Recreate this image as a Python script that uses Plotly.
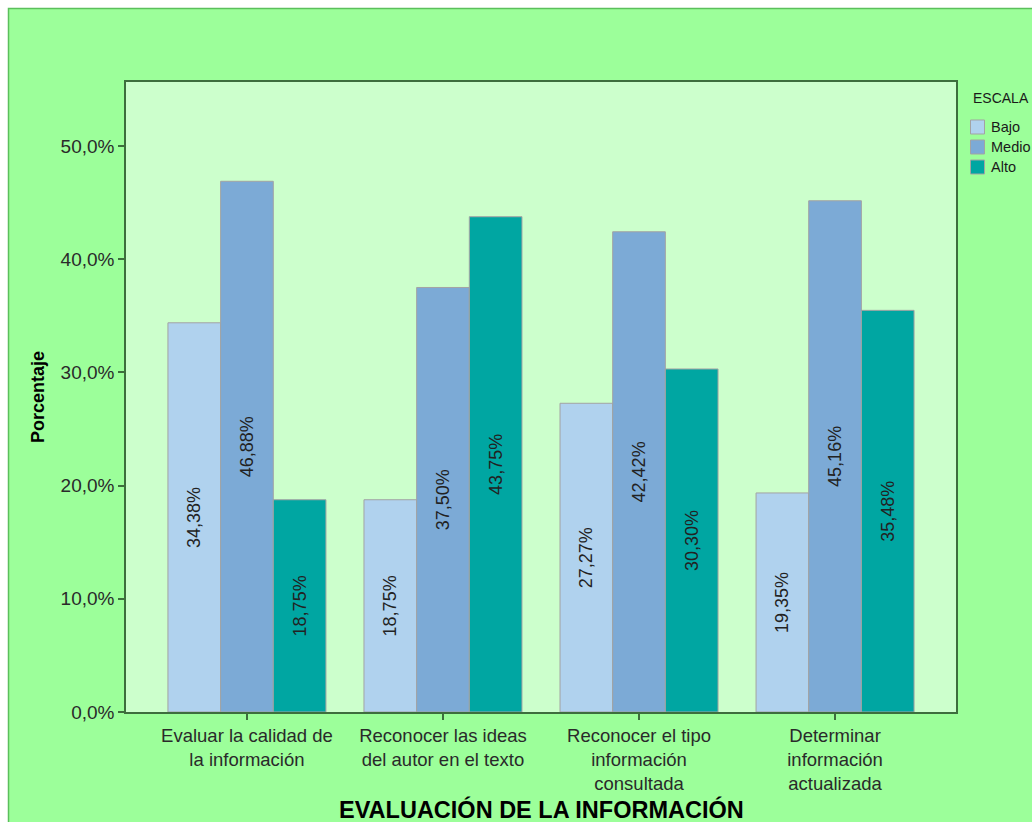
import plotly.graph_objects as go

categories = [
    "Evaluar la calidad de<br>la información",
    "Reconocer las ideas<br>del autor en el texto",
    "Reconocer el tipo<br>información<br>consultada",
    "Determinar<br>información<br>actualizada",
]
series_names = ["Bajo", "Medio", "Alto"]
bajo = [34.38, 18.75, 27.27, 19.35]
medio = [46.88, 37.50, 42.42, 45.16]
alto = [18.75, 43.75, 30.30, 35.48]
series_values = [bajo, medio, alto]
series_colors = ["#B0D2EE", "#7CAAD6", "#00A6A2"]
y_ticks = [0, 10, 20, 30, 40, 50]
y_ticktext = ["0,0%", "10,0%", "20,0%", "30,0%", "40,0%", "50,0%"]
legend_title = "ESCALA"

FONT = "Liberation Sans, Arial, sans-serif"

fig = go.Figure()
for name, vals, col in zip(series_names, series_values, series_colors):
    fig.add_trace(go.Bar(
        name=name, x=categories, y=vals,
        marker=dict(color=col, line=dict(color="#A3A3A3", width=1)),
        texttemplate="%{y:.2f}%",
        textposition="inside",
        insidetextanchor="middle",
        textangle=-90,
        textfont=dict(family=FONT, size=18, color="#222222"),
        hoverinfo="skip",
        showlegend=False,
    ))

W, H = 1032, 822
L, T, R, B = 126, 82, 76, 110
pw, ph = W - L - R, H - T - B

def px_x(p):
    return (p - L) / pw

def px_y(p):
    return (H - B - p) / ph

shapes = [
    dict(type="rect", xref="paper", yref="paper", layer="below",
         x0=px_x(8.5), x1=px_x(1200), y0=px_y(1000), y1=px_y(8.5),
         fillcolor="#9CFF9A", line=dict(color="#5CBF5C", width=1.5)),
    dict(type="rect", xref="paper", yref="paper", layer="below",
         x0=0, x1=1, y0=0, y1=1,
         fillcolor="#CCFFCC", line=dict(width=0)),
]
annotations = [
    dict(text="<b>EVALUACIÓN DE LA INFORMACIÓN</b>", xref="paper", yref="paper",
         x=px_x(541), y=px_y(810), xanchor="center", yanchor="middle",
         showarrow=False, font=dict(family=FONT, size=23.5, color="#000000")),
    dict(text="<b>Porcentaje</b>", xref="paper", yref="paper",
         x=px_x(38), y=px_y(397), xanchor="center", yanchor="middle",
         textangle=-90, showarrow=False,
         font=dict(family=FONT, size=18, color="#000000")),
    dict(text=legend_title, xref="paper", yref="paper",
         x=px_x(971), y=px_y(98), xanchor="left", yanchor="middle",
         showarrow=False, font=dict(family=FONT, size=14, color="#1A1A1A")),
]
# legend drawn by hand so that swatch/text spacing matches the original
for i, (name, col) in enumerate(zip(series_names, series_colors)):
    cy = 127 + 20 * i
    shapes.append(dict(type="rect", xref="paper", yref="paper", layer="above",
                       x0=px_x(970.5), x1=px_x(984.5), y0=px_y(cy + 7), y1=px_y(cy - 7),
                       fillcolor=col, line=dict(color="#A3A3A3", width=1)))
    annotations.append(dict(text=name, xref="paper", yref="paper",
                            x=px_x(989), y=px_y(cy), xanchor="left", yanchor="middle",
                            showarrow=False,
                            font=dict(family=FONT, size=14.5, color="#1A1A1A")))

fig.update_layout(
    width=W, height=H,
    margin=dict(l=L, r=R, t=T, b=B, pad=0, autoexpand=False),
    paper_bgcolor="white",
    plot_bgcolor="#CCFFCC",
    separators=",.",
    barmode="group",
    bargap=0.194,
    bargroupgap=0,
    font=dict(family=FONT, color="#2A2A2A"),
    showlegend=False,
    xaxis=dict(
        range=[-0.617, 3.617],
        showline=True, linecolor="#3D6E3D", linewidth=1.5, mirror=True,
        ticks="outside", ticklen=6, tickcolor="#3D6E3D", tickwidth=1.5,
        tickfont=dict(family=FONT, size=18.5, color="#2A2A2A"),
        showgrid=False, zeroline=False, fixedrange=True,
    ),
    yaxis=dict(
        range=[0, 55.65],
        tickvals=y_ticks, ticktext=y_ticktext,
        showline=True, linecolor="#3D6E3D", linewidth=1.5, mirror=True,
        ticks="outside", ticklen=6, tickcolor="#3D6E3D", tickwidth=1.5,
        tickfont=dict(family=FONT, size=19, color="#2A2A2A"),
        showgrid=False, zeroline=False, fixedrange=True,
    ),
    shapes=shapes,
    annotations=annotations,
)

fig.write_html("out.html")
